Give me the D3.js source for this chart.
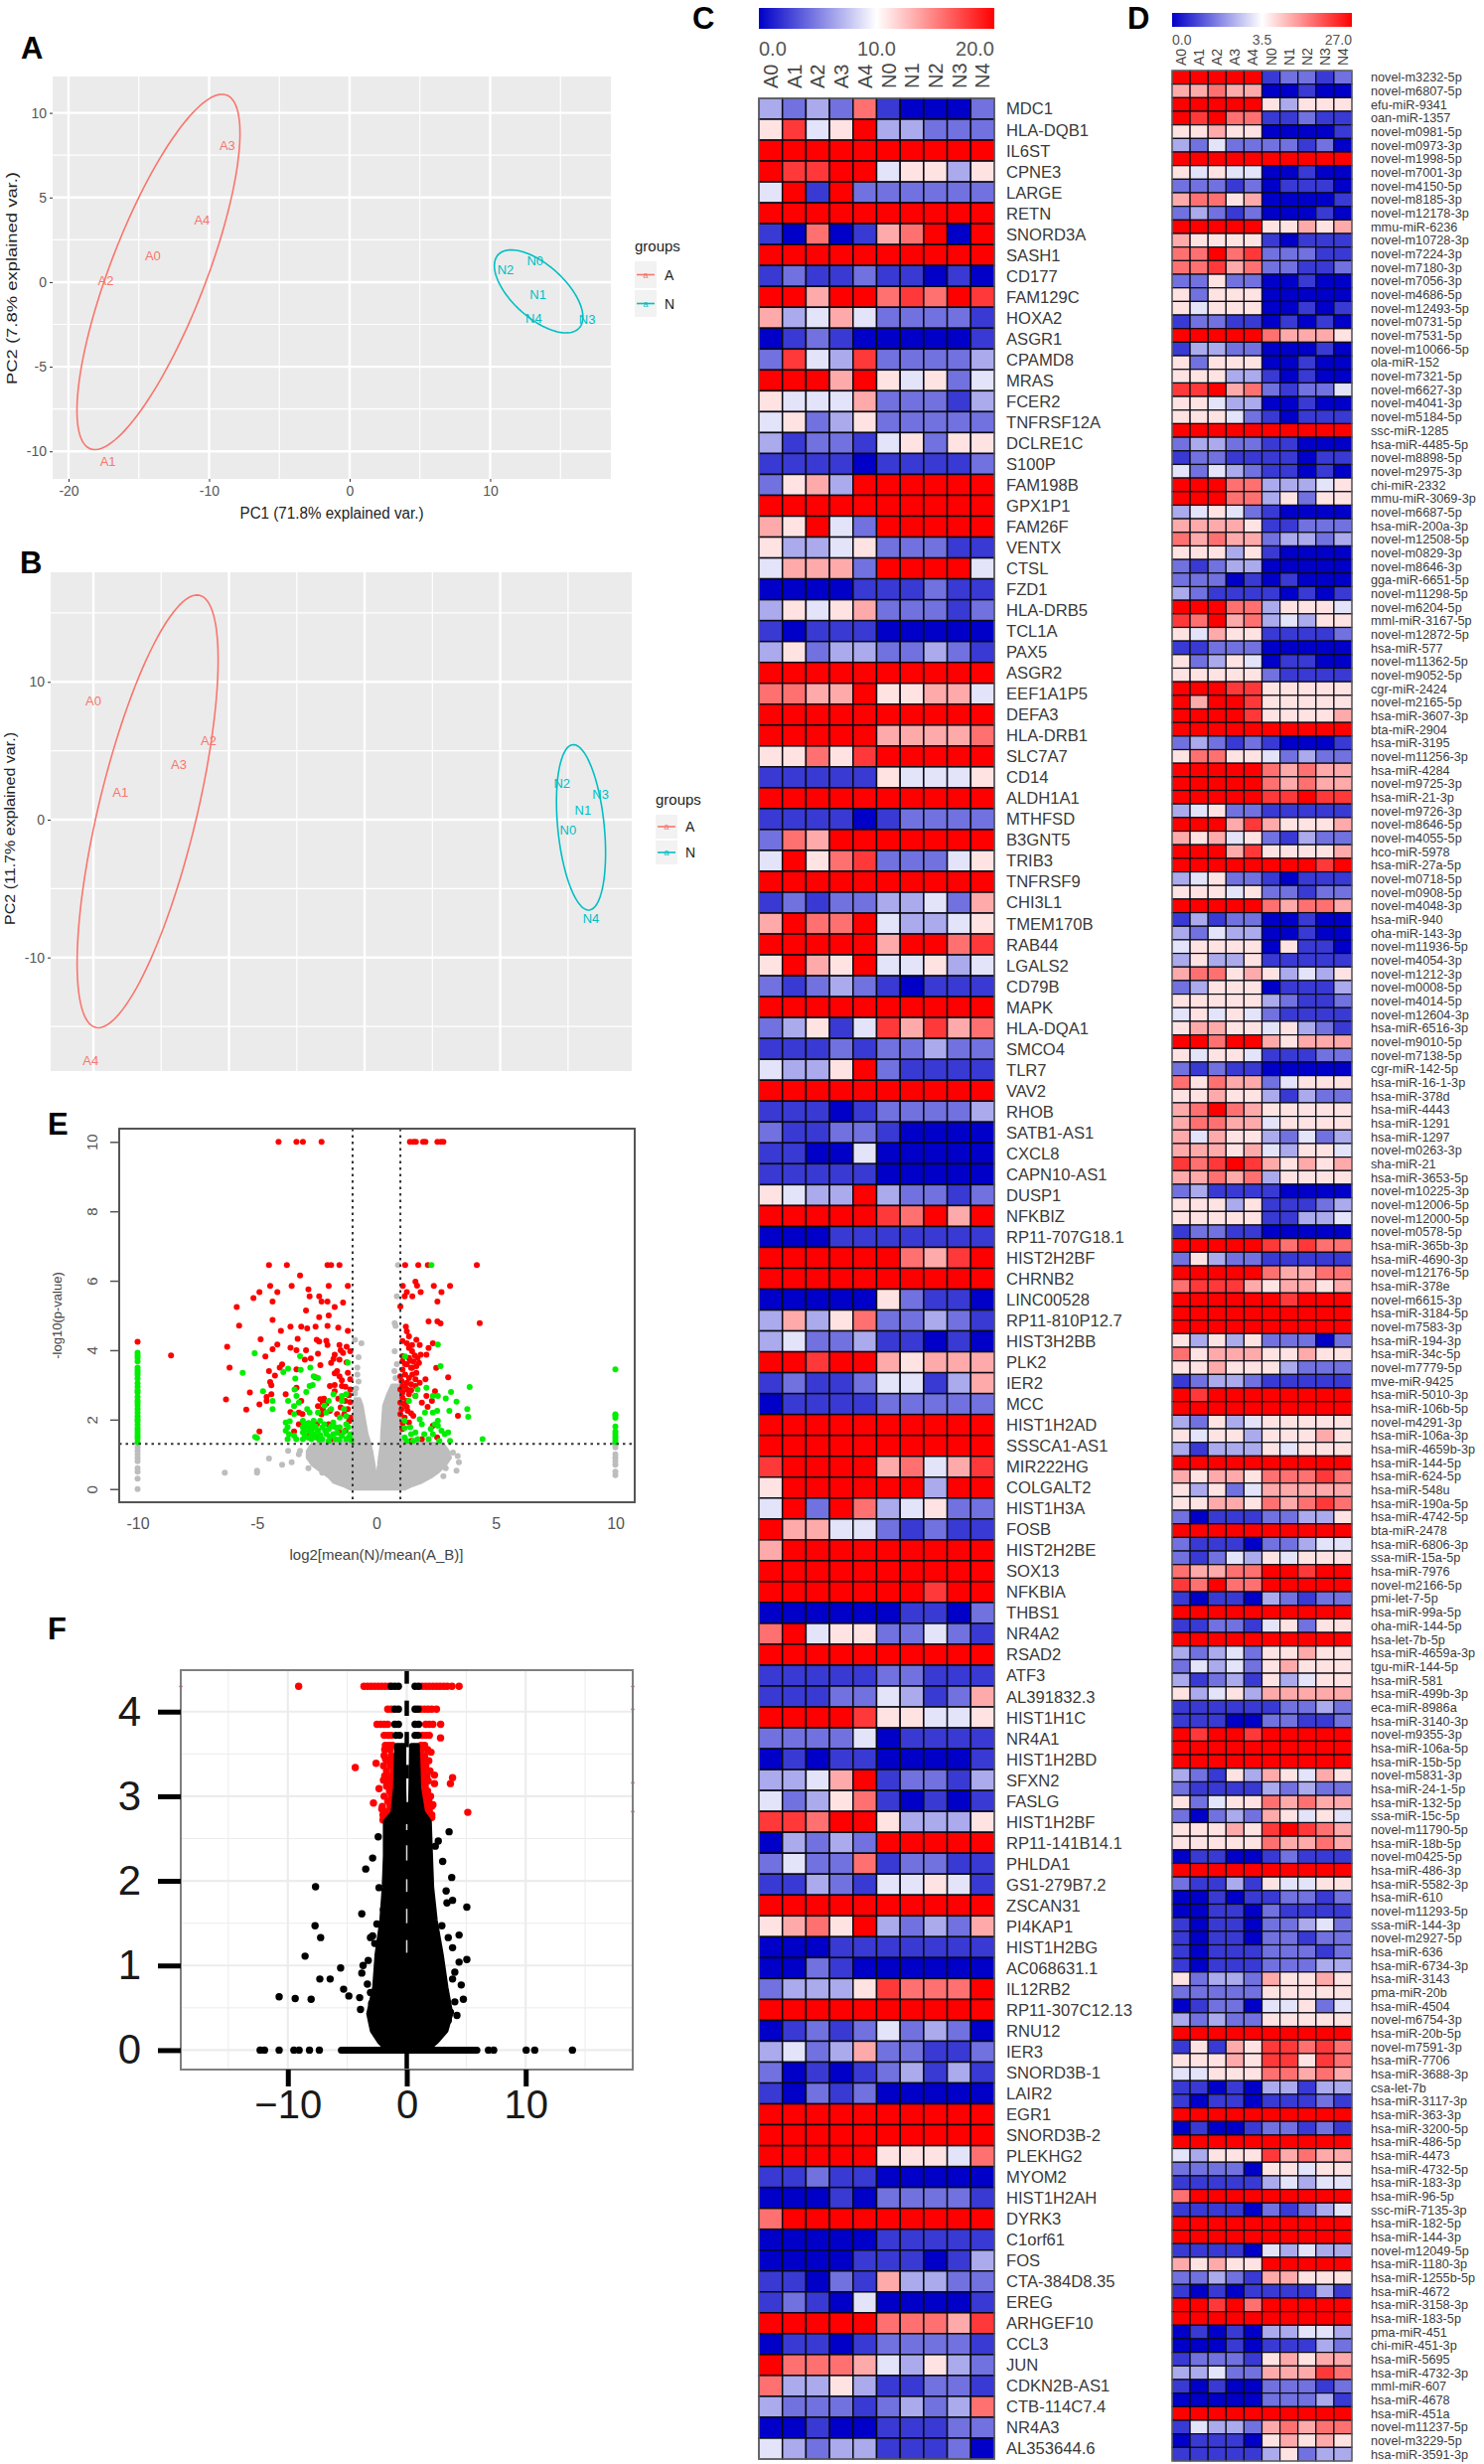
<!DOCTYPE html>
<html>
<head>
<meta charset="utf-8">
<title>PCA, heatmaps and volcano plots</title>
<script src="https://cdn.jsdelivr.net/npm/d3@7"></script>
<style>
  body { margin: 0; background: #fff; }
  svg { display: block; }
  text { font-family: "Liberation Sans", Arial, sans-serif; }
  .letter { font-weight: 700; font-size: 31px; fill: #000; }
</style>
</head>
<body>
<div id="canvas"></div>
<script>
//1) Data

//PCA panels, data units
const samples = ['A0','A1','A2','A3','A4','N0','N1','N2','N3','N4']
const pcaA_x = [-14, -17.2, -17.35, -8.7, -10.5, 13.2, 13.4, 11.1, 16.9, 13.1]
const pcaA_y = [1.58, -10.6, 0.06, 8.1, 3.67, 1.24, -0.74, 0.76, -2.2, -2.15]
const pcaB_x = [-20, -18, -11.5, -13.7, -20.2, 15, 16.1, 14.55, 17.4, 16.7]
const pcaB_y = [8.6, 1.97, 5.7, 4, -17.5, -0.77, 0.67, 2.67, 1.82, -7.2]
//ellipses: centre x, centre y, half width, half height, correlation
const ellipsesA = [[-13.6, 0.6, 5.8, 10.5, 0.78], [13.45, -0.55, 3.15, 2.45, -0.62]]
const ellipsesB = [[-16, 0.6, 5.2, 15.7, 0.7], [15.96, -0.56, 1.81, 6, -0.31]]

//heatmap C, one digit per cell: 0 deep blue, 4-5 white, 9 red
const genesC = ['MDC1','HLA-DQB1','IL6ST','CPNE3','LARGE','RETN','SNORD3A','SASH1','CD177','FAM129C','HOXA2','ASGR1','CPAMD8','MRAS','FCER2','TNFRSF12A','DCLRE1C','S100P','FAM198B','GPX1P1','FAM26F','VENTX','CTSL','FZD1','HLA-DRB5','TCL1A','PAX5','ASGR2','EEF1A1P5','DEFA3','HLA-DRB1','SLC7A7','CD14','ALDH1A1','MTHFSD','B3GNT5','TRIB3','TNFRSF9','CHI3L1','TMEM170B','RAB44','LGALS2','CD79B','MAPK','HLA-DQA1','SMCO4','TLR7','VAV2','RHOB','SATB1-AS1','CXCL8','CAPN10-AS1','DUSP1','NFKBIZ','RP11-707G18.1','HIST2H2BF','CHRNB2','LINC00528','RP11-810P12.7','HIST3H2BB','PLK2','IER2','MCC','HIST1H2AD','SSSCA1-AS1','MIR222HG','COLGALT2','HIST1H3A','FOSB','HIST2H2BE','SOX13','NFKBIA','THBS1','NR4A2','RSAD2','ATF3','AL391832.3','HIST1H1C','NR4A1','HIST1H2BD','SFXN2','FASLG','HIST1H2BF','RP11-141B14.1','PHLDA1','GS1-279B7.2','ZSCAN31','PI4KAP1','HIST1H2BG','AC068631.1','IL12RB2','RP11-307C12.13','RNU12','IER3','SNORD3B-1','LAIR2','EGR1','SNORD3B-2','PLEKHG2','MYOM2','HIST1H2AH','DYRK3','C1orf61','FOS','CTA-384D8.35','EREG','ARHGEF10','CCL3','JUN','CDKN2B-AS1','CTB-114C7.4','NR4A3','AL353644.6']
const levelsC = ['3232710002','5845933222','9999999999','9889945535','4919222222','9999999999','1070167909','9999999999','1211211010','9969978798','6346422221','0121000001','2843822223','9996954524','5444622213','4523522222','3122145255','1111011112','2563999999','9999999999','6594299999','5334522211','4666299994','0000111211','3545622212','1011100000','3523322321','9999999999','7766955664','9999999999','9999966667','5575899999','1111154445','9999999999','1111012222','2769999999','4957822245','9999999999',
'1212233426','6977943345','9999969978','5965944534','2123210111','9999999999','2351486867','1112122322','4335921111','9999999999','1110122223','2112210000','1100400000','1111100000','5433932212','9999987969','0001111111','9999997689','9999999999','0000052110','3635722321','3422311010','9989965666','1211244136','0111122222','9999999999','9999999999','8999967468','5999999399','4929734522','9664421211','6999999999','9999999999','9999999899','0000001102','7945522421','9999999999',
'1111122111','1112243126','9999855445','2222401111','0101100001','3346912213','4235710101','8879953335','0323299999','2422712211','1132144541','9999999999','5675932326','0001111111','0021000000','2333587779','9999999999','0121242320','3423622112','2010123131','1021200000','9999999999','9999999999','9999955547','1121100000','0001022221','7999999999','0000011111','0000111013','1102163322','1210400001','9999977768','0110122221','9777643532','7335311221','3222123237','0010011122','4323311120']

//heatmap D
const mirnasD = ['novel-m3232-5p','novel-m6807-5p','efu-miR-9341','oan-miR-1357','novel-m0981-5p','novel-m0973-3p','novel-m1998-5p','novel-m7001-3p','novel-m4150-5p','novel-m8185-3p','novel-m12178-3p','mmu-miR-6236','novel-m10728-3p','novel-m7224-3p','novel-m7180-3p','novel-m7056-3p','novel-m4686-5p','novel-m12493-5p','novel-m0731-5p','novel-m7531-5p','novel-m10066-5p','ola-miR-152','novel-m7321-5p','novel-m6627-3p','novel-m4041-3p','novel-m5184-5p','ssc-miR-1285','hsa-miR-4485-5p','novel-m8898-5p','novel-m2975-3p','chi-miR-2332','mmu-miR-3069-3p','novel-m6687-5p','hsa-miR-200a-3p','novel-m12508-5p','novel-m0829-3p','novel-m8646-3p','gga-miR-6651-5p','novel-m11298-5p','novel-m6204-5p','mml-miR-3167-5p','novel-m12872-5p','hsa-miR-577','novel-m11362-5p','novel-m9052-5p','cgr-miR-2424','novel-m2165-5p','hsa-miR-3607-3p','bta-miR-2904','hsa-miR-3195','novel-m11256-3p','hsa-miR-4284','novel-m9725-3p','hsa-miR-21-3p','novel-m9726-3p','novel-m8646-5p','novel-m4055-5p','hco-miR-5978','hsa-miR-27a-5p','novel-m0718-5p','novel-m0908-5p','novel-m4048-3p','hsa-miR-940','oha-miR-143-3p','novel-m11936-5p','novel-m4054-3p','novel-m1212-3p','novel-m0008-5p','novel-m4014-5p','novel-m12604-3p','hsa-miR-6516-3p','novel-m9010-5p','novel-m7138-5p','cgr-miR-142-5p','hsa-miR-16-1-3p','hsa-miR-378d','hsa-miR-4443','hsa-miR-1291','hsa-miR-1297','novel-m0263-3p','sha-miR-21','hsa-miR-3653-5p','novel-m10225-3p','novel-m12006-5p','novel-m12000-5p','novel-m0578-5p','hsa-miR-365b-3p','hsa-miR-4690-3p','novel-m12176-5p','hsa-miR-378e','novel-m6615-3p','hsa-miR-3184-5p','novel-m7583-3p','hsa-miR-194-3p','hsa-miR-34c-5p','novel-m7779-5p','mve-miR-9425','hsa-miR-5010-3p','hsa-miR-106b-5p','novel-m4291-3p','hsa-miR-106a-3p','hsa-miR-4659b-3p','hsa-miR-144-5p','hsa-miR-624-5p','hsa-miR-548u','hsa-miR-190a-5p','hsa-miR-4742-5p','bta-miR-2478','hsa-miR-6806-3p','ssa-miR-15a-5p','hsa-miR-7976','novel-m2166-5p','pmi-let-7-5p','hsa-miR-99a-5p','oha-miR-144-5p','hsa-let-7b-5p','hsa-miR-4659a-3p','tgu-miR-144-5p','hsa-miR-581','hsa-miR-499b-3p','eca-miR-8986a','hsa-miR-3140-3p','novel-m9355-3p','hsa-miR-106a-5p','hsa-miR-15b-5p','novel-m5831-3p','hsa-miR-24-1-5p','hsa-miR-132-5p','ssa-miR-15c-5p','novel-m11790-5p','hsa-miR-18b-5p','novel-m0425-5p','hsa-miR-486-3p','hsa-miR-5582-3p','hsa-miR-610','novel-m11293-5p','ssa-miR-144-3p','novel-m2927-5p','hsa-miR-636','hsa-miR-6734-3p','hsa-miR-3143','pma-miR-20b','hsa-miR-4504','novel-m6754-3p','hsa-miR-20b-5p','novel-m7591-3p','hsa-miR-7706','hsa-miR-3688-3p','csa-let-7b','hsa-miR-3117-3p','hsa-miR-363-3p','hsa-miR-3200-5p','hsa-miR-486-5p','hsa-miR-4473','hsa-miR-4732-5p','hsa-miR-183-3p','hsa-miR-96-5p','ssc-miR-7135-3p','hsa-miR-182-5p','hsa-miR-144-3p','novel-m12049-5p','hsa-miR-1180-3p','hsa-miR-1255b-5p','hsa-miR-4672','hsa-miR-3158-3p','hsa-miR-183-5p','pma-miR-451','chi-miR-451-3p','hsa-miR-5695','hsa-miR-4732-3p','mml-miR-607','hsa-miR-4678','hsa-miR-451a','novel-m11237-5p','novel-m3229-5p','hsa-miR-3591-3p']
const levelsD = ['9999912212','6676600100','9999953555','9897711211','5565500001','3242222120','9999999999','5454400100','2221201110','6775600001','2321200010','9999955656','6555510111','7797822211','7786722112','2252200100','5255500000','5455500101','1221101010','9999976665','1332200010','5255500100','5553310100','8896721224','5543300100','5554210111','9999999999','2332211000','1221111011','4243211010','9997733345','9997735255','3454210000','6666511222','7676623323','5553510000','2123300000','2220101000','3211110101','9997735554','8796734355','5465511112','1122200000','5235401100','5555521111','9998855555','9699855555','9999855556','9999999999','2321210001','5775542322','9999976766','9999976766','9999988988','3452211111','9996865556','6564521322','9996855556','9999999989',
'3452210111','5554522122','9999976776','1312200100','3243300100','4555505110','3533511111','6775653435','2355501113','5555532112','4545421111','5665545321','9979965666','5455411122','2121100000','7576624555','5565531322','6797655555','6776645555','6465532423','6665643554','8789865656','6676735555','2311110000','5553511123','5555511334','1221100000','9999987877','2532211111','9999976677','7888656656','9999998999','9999999999','9999999999','5353522202','7566655655','5565553222','1233211111','9899999999','9999999999','3253455555','5455355565','3133354555','9999999999','6566577787','5352466666','5566576787','2011122335','9999999999','2111022344','2124354555','7667799899','8797799999','1011032122','9999999999','1122145255','9999999999','3234255655',
'2434256555','3123153455','5345366666','1111112232','1110022112','9899899999','9999999999','9999999999','3215365465','2111132322','5245576766','2023265454','5556589876','5555576676','0110012111','9999999999','2113154455','0010112212','0011021111','1011022342','1011022122','1011122212','1011122233','5233265565','2222255555','0122044524','3232255555','9999999999','1516588787','5556588587','4455577676','1101033133','1011011121','9999999999','0100122121','9999999999','4355586766','2222055455','1111134344','7999999999','1111021234','9999999999','9999999999','1111043433','6565599999','2232166555','1010111131','9989799999','9999999999','0101033443','0001011132','1222156566','3342266687','1010022212','0000022231','9999999999','1433267677','0111056565','1111135233']

//volcano E, [log2 ratio, -log10 p]
const redE = [[-4.1,10],[-3.35,10],[-3.08,10],[-2.3,10],[1.4,10],[1.55,10],[1.65,10],[1.95,10],[2.05,10],[2.55,10],[2.7,10],[2.8,10],
[-4.5,6.45],[-3.75,6.45],[-2.05,6.45],[-1.9,6.45],[-1.55,6.45],[1.2,6.45],[1.75,6.45],[2.15,6.45],[4.2,6.45],
[-3.2,6.15],[-4.45,5.85],[-3.55,5.85],[-2,5.85],[-1.2,5.85],[-4.9,5.67],[-4.15,5.67],[-2.85,5.75],[-5.15,5.5],[-2.8,5.55],[-2.4,5.55],[-4.35,5.4],[-2.3,5.4],[-2.05,5.4],[-1.4,5.37],[-5.85,5.24],[-1.75,5.24],[-2.95,5.14],[-2,5],[-2.4,4.95],[-4.35,4.87],[-5.75,4.71],[-3.6,4.68],[-3.15,4.68],[-2.9,4.63],[-2.55,4.68],[-2.05,4.7],[-1.6,4.65],[-1.2,4.56],[-4,4.56],[-4.85,4.31],[-3.3,4.33],[-2.5,4.3],[-2.4,4.25],[-2.1,4.27],[-10,4.24],[-4.15,4.16],[-6.25,4.1],[-4.35,4.03],[-3.6,4.07],[-3.35,4],[-2.95,4],[-2.05,4.15],[-1.55,4.15],[-1.25,4.1],[-1.1,3.97],[-8.6,3.85],[-4.65,3.82],[-2.45,3.9],[-1.75,3.87],[-1.5,4],[-1.4,3.92],[-1.8,3.75],[-3,3.73],[-2.75,3.76],[-1.9,3.63],[-1.55,3.73],[-1.25,3.65],[-3.95,3.59],[-4.05,3.5],[-6.15,3.5],[-2.35,3.57],[-4.5,3.4],[-3.35,3.45],[-1.65,3.4],[-1.2,3.35],[-1.75,3.33],[-4.25,3.27],[-1.55,3.25],[-2.55,3.22],[-4.45,3.08],[-1.45,3.13],[-1.1,3.16],[-4.4,2.99],[-1.75,3],[-1.95,2.97],[-1.45,2.97],[-1.1,2.87],[-3.35,2.92],[-5.3,2.78],[-1.75,2.82],[-3.8,2.73],[-4.4,2.73],[-4.6,2.65],[-6.3,2.58],[-2.35,2.59],[-3.15,2.54],[-4.6,2.54],[-4.9,2.44],[-2.25,2.49],[-2.1,2.46],[-2.45,2.39],[-1.3,2.54],[-5.45,2.29],[-3.6,2.22],[-3.25,2.2],[-3.1,2.16],[-2.25,2.3],[-1.65,2.16],[-1.2,2.3],[-1.1,2.06],[-4.9,1.66],[-3.45,1.66],[-3.25,1.87],[-2.5,1.87],[-2,1.87],[-1.3,1.68],[-2.85,1.52],[-1.55,1.63],[-2.5,1.49],[-1.9,1.44],
[-1.3,2.95],[-1.6,2.6],[-1.15,2.7],[-1.5,2.35],[-1.1,2.5],[-1.35,2.15],[-1.15,1.95],[-2.2,2.6],[-2.3,2.15],[-1.95,2.25],
[1,5.26],[1.1,5.85],[1.63,5.97],[1.7,5.86],[2.4,5.85],[3.08,5.85],[1.27,5.67],[1.85,5.67],[2.72,5.67],[1.18,5.55],[1.5,5.55],[2.55,5.4],[2.18,4.83],[2.55,4.83],[2.68,4.77],[4.32,4.78],[1.23,4.68],[1.27,4.54],[1.36,4.4],[1.09,4.26],[1.27,4.2],[1.67,4.3],[2.36,4.2],[1.49,4.15],[1.81,4.15],[2.18,4.06],[1.36,4.06],[1.49,3.97],[1.09,3.83],[1.85,3.87],[2.09,3.87],[1.36,3.78],[1.72,3.78],[1.09,3.68],[1.54,3.68],[1.78,3.63],[1.27,3.59],[1.67,3.54],[1.45,3.49],[2.5,3.49],[1.09,3.44],[1.67,3.35],[1,3.25],[3,3.22],[1.36,3.2],[2.05,3.16],[1.63,3.16],[1.05,3.11],[1.81,3.06],[1.27,3.06],[1.45,3.02],[1.09,2.97],[1.63,2.97],[1,2.87],[1.27,2.87],[2.45,2.82],[1.09,2.78],[1.36,2.73],[1.09,2.63],[1.63,2.68],[2.09,2.68],[1.27,2.54],[1,2.49],[1.9,2.49],[2.32,2.54],[1.27,2.37],[2.14,2.37],[1.45,2.18],[1,2.16],[3.41,2.11],[1.18,2.06],[1.54,2.11],[1.36,1.92],[2.36,1.82],[1.09,1.73],[1.45,1.39],[1.9,1.44],[2.54,1.49],
[1.2,3.6],[1.5,3.5],[1.4,3.7],[1.6,3.85],[1.2,3.3],[1.5,3.3],[1.2,2.95],[1.45,2.85],[1.15,2.45],[1.05,2.3],[1.3,2.25],[1.1,1.9]]
const greenE = [[-5.1,3.91],[-5.6,3.35],[-3.2,3.83],[-3.7,3.47],[-3.9,3.37],[-3.17,3.43],[-2.77,3.5],[-3.4,3.18],[-2.63,3.25],[-2.45,3.2],[-2.67,3],[-2.8,2.97],[-3.43,2.87],[-4.75,2.82],[-2.94,2.8],[-3.35,2.68],[-3.7,2.54],[-4.35,2.54],[-4.35,2.3],[-3.45,2.39],[-3.25,2.49],[-1.8,2.73],[-1.45,2.68],[-1.27,2.73],[-2,2.54],[-1.45,2.54],[-1.2,3.64],[-2.18,2.4],[-1.9,2.3],[-1.36,2.3],[-2.9,2.3],[-2.8,2.2],[-2.45,2.2],[-2.1,2.2],[-3.45,2.16],[-1.27,2.1],[-1.54,2.06],
[-3.8,1.92],[-3.63,1.95],[-3.72,1.78],[-3.8,1.68],[-3.66,1.58],[-3.72,1.44],[-3.45,1.54],[-3.36,1.44],[-3.08,1.97],[-3,1.87],[-3.08,1.78],[-2.9,1.78],[-2.72,1.87],[-2.63,1.97],[-3.08,1.63],[-2.86,1.68],[-2.68,1.73],[-2.45,1.68],[-2.72,1.58],[-3,1.54],[-2.54,1.58],[-3.08,1.44],[-2.72,1.44],[-2.36,1.97],[-2.27,1.78],[-2.18,1.87],[-2,1.73],[-1.81,1.92],[-1.72,1.78],[-2.09,1.58],[-1.81,1.58],[-2.27,1.44],[-2,1.39],[-1.72,1.44],[-1.54,1.78],[-1.45,1.54],[-1.27,1.87],[-1.18,1.78],[-1.09,1.58],[-1.27,1.44],[-1.05,1.41],[-5,1.47],[-5.08,1.5],
[-2.85,1.9],[-2.8,1.75],[-2.55,1.8],[-2.95,1.7],[-2.6,1.5],[-2.85,1.48],[-2.35,1.55],[-2.15,1.68],[-1.95,1.5],[-1.65,1.62],[-1.55,1.42],[-1.35,1.65],[-1.15,1.5],[-1.9,1.8],[-2.4,1.42],
[2.57,4.16],[2.68,3.54],[3.9,2.94],[1.2,3.82],[2.3,6.45],[3.12,2.8],[1.72,2.87],[2.09,2.92],[2.57,2.68],[2.9,2.61],[3.35,2.52],[3.8,2.3],[3.05,2.25],[2.54,2.25],[2.36,2.2],[2.03,2.2],[3.84,2.08],[1.81,2.01],[1.18,1.97],[2.57,1.97],[2.45,1.87],[1.9,1.87],[1.41,1.78],[1.18,1.76],[2.27,1.73],[2.57,1.82],[3,1.63],[2.86,1.58],[4.44,1.44],[1.63,1.63],[1.45,1.58],[2,1.58],[2.36,1.58],[1.18,1.49],[1.72,1.44],[2.18,1.44],[2.63,1.39],[3.08,1.39],[1.27,1.39],[1.54,1.39],[2.72,1.68],[1.63,2.68],[1.36,2.54],[2.36,2.68]]
const greenColLeft = [1.35,1.45,1.52,1.6,1.68,1.75,1.85,1.95,2.02,2.1,2.2,2.3,2.4,2.48,2.55,2.65,2.78,2.85,2.95,3.05,3.18,3.28,3.35,3.42,3.5,3.68,3.78,3.85,3.93]
const greenColRight = [1.35,1.42,1.5,1.58,1.66,1.8,2.05,2.12,2.15,3.45]
const grayColLeft = [0,0.3,0.5,0.6,0.8,0.9,1,1.1,1.2]
const grayColRight = [0.4,0.5,0.7,0.8,0.9,1,1.2,1.3]
const grayE = [[-6.35,0.47],[-5,0.53],[-5,0.47],[-4.5,0.88],[-3.95,0.7],[-3.55,0.77],[-3.7,1.1],[-3.2,1.1],[-3.25,1],[-2.85,0.6],[-2.27,0.47],[-2.6,0.75],[3.35,0.53],[3.45,0.77],[2.8,0.37],[3.4,0.95],[3.2,1.05],[2.9,0.6],[0.9,6.45],[0.76,4.78],[0.85,5.55],[-0.63,4.2],[-0.9,4.3],[0.76,3.97],[0.8,4.7],[0.75,3.4],[0.8,3.2],[0.85,3.6],[-0.8,3.5],[-0.75,3.1],[-0.85,2.9],[-0.8,3.3],[-0.75,3.8],[-0.9,2.75]]
//dense grey cloud: [y, outer x, inner x]
const grayWingLeft = [[0,-1.1,-0.02],[0.1,-1.4,-0.03],[0.2,-1.8,-0.04],[0.35,-2,-0.05],[0.5,-2.3,-0.06],[0.7,-2.7,-0.1],[0.9,-2.9,-0.15],[1.1,-2.9,-0.2],[1.3,-2.7,-0.27],[1.38,-1,-0.3],[1.6,-1,-0.4],[2,-0.95,-0.5],[2.4,-0.95,-0.6],[2.6,-0.9,-0.7]]
const grayWingRight = [[0,1.2,0.02],[0.1,1.5,0.03],[0.2,1.9,0.04],[0.35,2.3,0.05],[0.5,2.6,0.05],[0.7,2.9,0.09],[0.9,3.1,0.12],[1.1,3,0.16],[1.3,2.8,0.2],[1.38,1,0.21],[1.6,1,0.22],[2,1,0.26],[2.4,1,0.3],[2.7,1,0.45],[3,0.95,0.65]]

//volcano F
const blackDotsF = [[-7.67,1.93],[-7.71,1.47],[-7.24,1.33],[-8.55,1.11],[-5.56,0.97],[-7.31,0.84],[-6.44,0.84],[-10.73,0.63],[-9.38,0.61],[-8.04,0.6],[-5.31,0.72],[-4.87,0.64],[-3.96,0.62],[-3.89,0.48],[-3.78,1.61],[-3.45,2.14],[-2.87,2.27],[-2.4,2.52],[-2.33,1.92],[3.56,2.58],[2.65,2.47],[2.4,2.41],[3.02,2.23],[3.78,2.04],[3.31,1.88],[3.85,1.77],[3.38,1.74],[5.05,1.69],[2.95,1.47],[4.4,1.36],[3.49,1.33],[3.85,1.21],[5.05,1.07],[4.4,1.04],[4.04,0.92],[3.85,0.84],[4.58,0.77],[4.76,0.6],[4.04,0.57],[3.67,0.45],[4.22,0.41],[3.49,0.35],[-3.05,1.33],[-2.87,1.35],[-2.69,1.26],[-2.15,1.15],[-3.24,1.06],[-3.67,1],[-3.78,0.91],[-3.31,0.78],[-3.05,0.68],[-2.95,0.55],[-1.96,1.66],[-2.51,1.49],
[-12.33,0],[-11.96,0],[-10.73,0],[-9.49,0],[-9.05,0],[-8.18,0],[-7.35,0],[6.87,0],[7.31,0],[10.04,0],[10.76,0],[13.93,0],
[-1.3,4.3],[-1,4.3],[-0.7,4.3],[0.7,4.3],[1,4.3],[-1,4.03],[-0.7,4.03],[0.7,4.03],[0.95,4.03],[-1,3.85],[-0.7,3.85],[0.7,3.85],[1,3.85],[-0.9,3.72],[-0.6,3.72],[0.7,3.72],[0.95,3.72]]
const baselineF = [-5.5, 5.9]
const redDotsF = [[-9.09,4.3],[-3.6,4.3],[-3.3,4.3],[-3,4.3],[-2.7,4.3],[-2.4,4.3],[-2.1,4.3],[-1.8,4.3],[-1.5,4.3],[1.3,4.3],[1.6,4.3],[1.9,4.3],[2.2,4.3],[2.5,4.3],[2.8,4.3],[3.1,4.3],[3.4,4.3],[3.8,4.3],[4.4,4.3],
[-1.6,4.03],[-1.3,4.03],[1.2,4.03],[1.5,4.03],[1.8,4.03],[2.1,4.03],[2.5,4.03],
[-2.5,3.85],[-2.2,3.85],[-1.9,3.85],[-1.6,3.85],[1.6,3.85],[1.9,3.85],[2.2,3.85],[2.85,3.85],
[-1.9,3.72],[-1.6,3.72],[-1.3,3.72],[1.3,3.72],[1.6,3.72],[1.9,3.72],[2.84,3.69],
[-1.8,3.6],[-1.5,3.6],[-1.2,3.6],[1.2,3.6],[1.5,3.6],
[-4.33,3.34],[-2.58,3.39],[-2.33,3.09],[-2.8,2.92],[3.85,3.22],[3.67,3.15],[5.13,2.81],[2.33,3.25],[2.33,3.15],[2.04,3.52],[-1.96,3.19],[-1.78,3.44],[-2.1,2.85],[2.2,2.9],[2.1,2.75],[-2,2.72],
[-1.85,3.55],[-1.4,3.55],[-1.9,3.48],[-1.3,3.48],[-1.6,3.42],[-1.15,3.42],[-1.95,3.36],[-1.35,3.36],[-1.7,3.3],[-1.1,3.3],[-1.85,3.24],[-1.3,3.24],[-1.5,3.18],[-1.05,3.18],[-1.7,3.12],[-1.25,3.12],[-1.45,3.06],[-1,3.06],[-1.9,3],[-1.3,3],[-1.6,2.94],[-1.05,2.94],[-2.05,2.88],[-1.4,2.88],[-1.7,2.82],[-1.2,2.82],[-2,2.78],[-1.5,2.78],
[1.2,3.55],[1.75,3.55],[1.05,3.48],[1.5,3.48],[1.3,3.42],[1.85,3.42],[1.1,3.36],[1.6,3.36],[1.4,3.3],[1.95,3.3],[1.15,3.24],[1.7,3.24],[1.35,3.18],[1.8,3.18],[1.05,3.12],[1.55,3.12],[1.25,3.06],[1.75,3.06],[1.1,3],[1.6,3],[2,3],[1.3,2.94],[1.85,2.94],[1.05,2.88],[1.55,2.88],[2.1,2.88],[1.35,2.82],[1.9,2.82],[1.6,2.78],[2.1,2.78]]
//dense clouds: [y, left x, right x]
const blackCloudF = [[0,-1.6,1.67],[0.1,-2.3,2.5],[0.23,-2.9,3.3],[0.43,-3.2,3.7],[0.74,-2.7,3.3],[1.13,-2.5,2.9],[1.53,-2.1,2.4],[1.92,-1.9,2.1],[2.3,-1.8,2],[2.7,-1.8,1.9],[2.8,-1.2,1.4]]
const blackWingLeftF = [[2.75,-1.2,-0.2],[3.1,-0.95,-0.25],[3.6,-0.85,-0.25]]
const blackWingRightF = [[2.75,0.3,1.4],[3.1,0.35,1],[3.6,0.4,0.9]]
const zeroLineF = [[4.33,4.49],[3.95,4.13],[3.58,3.76],[3.21,3.37],[2.78,2.93],[-0.23,0]]
const zeroGapF = [[2.6,2.67],[2.24,2.42],[1.87,2.02],[1.5,1.67],[1.15,1.3]]
const edgeRedF = [[-19,4.3],[19,4.3],[19,4.03],[19,3.16],[19,2.82]]
const edgeBlackF = [[-19,2.5],[-19,1.8],[-19,1],[-19,0.9],[19,2.55],[19,2.25],[19,2.05],[19,1.65],[19,1.1],[19,1],[19,0.7]]

//2) Dimensions and canvas

const width = 1494
const height = 2480

const canvas = d3.select('#canvas')
                 .append('svg')
                 .attr('width', width)
                 .attr('height', height)

const letters = [['A',21,59],['B',20,577],['C',697,29],['D',1135,29],['E',48,1142],['F',48,1650]]
canvas.selectAll('.letter')
      .data(letters)
      .enter()
      .append('text')
      .attr('class', 'letter')
      .attr('x', d => d[1])
      .attr('y', d => d[2])
      .text(d => d[0])

//3) PCA panels

const pcaColors = ['#F8766D', '#00BFC4']

function ellipsePoints(e){
    const [cx, cy, hx, hy, rho] = e
    return d3.range(0, 6.3, 0.05).map(t => [
        cx + hx * Math.cos(t),
        cy + hy * (rho * Math.cos(t) + Math.sqrt(1 - rho * rho) * Math.sin(t))
    ])
}

function drawPca(cfg){
    const g = canvas.append('g')
    const x = d3.scaleLinear().domain(cfg.xDomain).range(cfg.xRange)
    const y = d3.scaleLinear().domain(cfg.yDomain).range(cfg.yRange)

    g.append('rect')
     .attr('x', cfg.xRange[0]).attr('y', cfg.yRange[1])
     .attr('width', cfg.xRange[1] - cfg.xRange[0])
     .attr('height', cfg.yRange[0] - cfg.yRange[1])
     .attr('fill', '#ebebeb')

    //grid
    const gridLine = (vals, w) => {
        g.append('g').selectAll('line').data(vals).enter().append('line')
         .attr('x1', d => x(d)).attr('x2', d => x(d))
         .attr('y1', cfg.yRange[0]).attr('y2', cfg.yRange[1])
         .attr('stroke', '#fff').attr('stroke-width', w)
    }
    const gridLineH = (vals, w) => {
        g.append('g').selectAll('line').data(vals).enter().append('line')
         .attr('y1', d => y(d)).attr('y2', d => y(d))
         .attr('x1', cfg.xRange[0]).attr('x2', cfg.xRange[1])
         .attr('stroke', '#fff').attr('stroke-width', w)
    }
    gridLine(cfg.xMinor, 1.2)
    gridLine(cfg.xMajor, 2.4)
    gridLineH(cfg.yMinor, 1.2)
    gridLineH(cfg.yMajor, 2.4)

    //axes
    if (cfg.xLabels) {
        const ax = g.append('g')
            .attr('transform', `translate(0,${cfg.yRange[0]})`)
            .call(d3.axisBottom(x).tickValues(cfg.xMajor).tickSize(3).tickPadding(4).tickFormat(d => String(d)))
        ax.select('.domain').remove()
        ax.selectAll('text').attr('font-size', 14).attr('fill', '#555')
        ax.selectAll('line').attr('stroke', '#333')
    }
    const ay = g.append('g')
        .attr('transform', `translate(${cfg.xRange[0]},0)`)
        .call(d3.axisLeft(y).tickValues(cfg.yMajor).tickSize(3).tickPadding(3).tickFormat(d => String(d)))
    ay.select('.domain').remove()
    ay.selectAll('text').attr('font-size', 14).attr('fill', '#555')
    ay.selectAll('line').attr('stroke', '#333')

    //ellipses
    const line = d3.line().x(d => x(d[0])).y(d => y(d[1])).curve(d3.curveLinearClosed)
    g.selectAll('.ell').data(cfg.ellipses).enter().append('path')
     .attr('class', 'ell')
     .attr('d', d => line(ellipsePoints(d)))
     .attr('fill', 'none')
     .attr('stroke', (d, i) => pcaColors[i])
     .attr('stroke-width', 1.6)

    //sample labels
    g.selectAll('.smp').data(samples).enter().append('text')
     .attr('class', 'smp')
     .attr('x', (d, i) => x(cfg.px[i]))
     .attr('y', (d, i) => y(cfg.py[i]))
     .attr('dy', '0.35em')
     .attr('text-anchor', 'middle')
     .attr('font-size', 13)
     .attr('fill', (d, i) => pcaColors[i < 5 ? 0 : 1])
     .text(d => d)

    //titles
    if (cfg.xTitle) {
        g.append('text').attr('x', cfg.xTitle[1]).attr('y', cfg.xTitle[2])
         .attr('text-anchor', 'middle').attr('font-size', 16).attr('fill', '#222')
         .attr('textLength', 185).attr('lengthAdjust', 'spacingAndGlyphs')
         .text(cfg.xTitle[0])
    }
    g.append('text')
     .attr('transform', `translate(${cfg.yTitle[1]},${cfg.yTitle[2]}) rotate(-90)`)
     .attr('text-anchor', 'middle').attr('font-size', 15).attr('fill', '#222')
     .attr('textLength', cfg.yTitle[3]).attr('lengthAdjust', 'spacingAndGlyphs')
     .text(cfg.yTitle[0])

    //legend
    const lg = cfg.legend
    g.append('text').attr('x', lg.x).attr('y', lg.y).attr('font-size', 15).attr('fill', '#222').text('groups')
    ;['A', 'N'].forEach((name, i) => {
        const top = lg.y + 10 + i * lg.step
        g.append('rect').attr('x', lg.x).attr('y', top).attr('width', 22).attr('height', lg.step - 2).attr('fill', '#f2f2f2')
        g.append('line').attr('x1', lg.x + 2).attr('x2', lg.x + 20)
         .attr('y1', top + (lg.step - 2) / 2).attr('y2', top + (lg.step - 2) / 2)
         .attr('stroke', pcaColors[i]).attr('stroke-width', 1.6)
        g.append('text').attr('x', lg.x + 11).attr('y', top + (lg.step - 2) / 2 + 3)
         .attr('text-anchor', 'middle').attr('font-size', 9).attr('fill', pcaColors[i]).text('a')
        g.append('text').attr('x', lg.x + 30).attr('y', top + (lg.step - 2) / 2 + 5)
         .attr('font-size', 14).attr('fill', '#222').text(name)
    })
}

drawPca({
    xDomain: [-21.13, 18.59], xRange: [53, 615],
    yDomain: [-11.63, 12.15], yRange: [482, 77],
    xMajor: [-20, -10, 0, 10], xMinor: [-15, -5, 5, 15],
    yMajor: [-10, -5, 0, 5, 10], yMinor: [-7.5, -2.5, 2.5, 7.5],
    xLabels: true,
    ellipses: ellipsesA, px: pcaA_x, py: pcaA_y,
    xTitle: ['PC1 (71.8% explained var.)', 334, 522],
    yTitle: ['PC2 (7.8% explained var.)', 17, 280, 214],
    legend: { x: 639, y: 253, step: 29 }
})

drawPca({
    xDomain: [-23.15, 19.7], xRange: [51, 636],
    yDomain: [-18.24, 17.95], yRange: [1078, 576],
    xMajor: [-20, -10, 0, 10], xMinor: [-15, -5, 5, 15],
    yMajor: [-10, 0, 10], yMinor: [-15, -5, 5, 15],
    xLabels: false,
    ellipses: ellipsesB, px: pcaB_x, py: pcaB_y,
    yTitle: ['PC2 (11.7% explained var.)', 15, 834, 194],
    legend: { x: 660, y: 810, step: 26 }
})

//4) Heatmaps

function drawHeat(cfg){
    const g = canvas.append('g')
    const color = d3.scaleLinear()
                    .domain([0, 4.5, 9])
                    .range(['#0000c8', '#ffffff', '#ff0000'])

    const gradId = cfg.id + '-grad'
    const grad = g.append('defs').append('linearGradient').attr('id', gradId)
    grad.selectAll('stop').data([['0%', '#0000c8'], ['50%', '#ffffff'], ['100%', '#ff0000']]).enter().append('stop')
        .attr('offset', d => d[0]).attr('stop-color', d => d[1])
    g.append('rect').attr('x', cfg.left).attr('y', cfg.barTop)
     .attr('width', cfg.right - cfg.left).attr('height', cfg.barH)
     .attr('fill', `url(#${gradId})`)

    g.selectAll('.barlab').data(cfg.barLabels).enter().append('text')
     .attr('class', 'barlab')
     .attr('x', (d, i) => cfg.left + (cfg.right - cfg.left) * i / 2)
     .attr('y', cfg.barLabelY)
     .attr('text-anchor', (d, i) => ['start', 'middle', 'end'][i])
     .attr('font-size', cfg.barFont)
     .attr('fill', '#555')
     .text(d => d)

    const x = d3.scaleBand().domain(samples).range([cfg.left, cfg.right])
    const y = d3.scaleBand().domain(d3.range(cfg.rows.length)).range([cfg.top, cfg.bottom])

    g.selectAll('.collab').data(samples).enter().append('text')
     .attr('class', 'collab')
     .attr('transform', d => `translate(${x(d) + x.bandwidth() / 2 + cfg.colFont * 0.36},${cfg.colBottom}) rotate(-90)`)
     .attr('font-size', cfg.colFont)
     .attr('fill', '#444')
     .text(d => d)

    const row = g.selectAll('.row').data(cfg.rows).enter().append('g')
                 .attr('class', 'row')
                 .attr('transform', (d, i) => `translate(0,${y(i)})`)

    row.selectAll('rect').data(d => d.split('').map((v, j) => [samples[j], +v])).enter().append('rect')
       .attr('x', d => x(d[0]))
       .attr('width', x.bandwidth())
       .attr('height', y.bandwidth())
       .attr('fill', d => color(d[1]))
       .attr('stroke', '#0a0a14')
       .attr('stroke-width', cfg.gap)

    g.append('rect').attr('x', cfg.left).attr('y', cfg.top)
     .attr('width', cfg.right - cfg.left).attr('height', cfg.bottom - cfg.top)
     .attr('fill', 'none').attr('stroke', '#8a8a8a').attr('stroke-width', 1)

    g.selectAll('.rowlab').data(cfg.names).enter().append('text')
     .attr('class', 'rowlab')
     .attr('x', cfg.labelX)
     .attr('y', (d, i) => y(i) + y.bandwidth() / 2)
     .attr('dy', '0.36em')
     .attr('font-size', cfg.labelFont)
     .attr('fill', '#3a3a3a')
     .text(d => d)
}

drawHeat({
    id: 'c', names: genesC, rows: levelsC,
    left: 764, right: 1001, top: 99, bottom: 2475,
    barTop: 8, barH: 21, barLabels: ['0.0', '10.0', '20.0'], barLabelY: 56, barFont: 20,
    colBottom: 89, colFont: 20, gap: 1.5,
    labelX: 1013, labelFont: 16.6
})

drawHeat({
    id: 'd', names: mirnasD, rows: levelsD,
    left: 1180, right: 1361, top: 71, bottom: 2477,
    barTop: 13, barH: 14, barLabels: ['0.0', '3.5', '27.0'], barLabelY: 45, barFont: 14,
    colBottom: 66, colFont: 14, gap: 1.2,
    labelX: 1380, labelFont: 12.7
})

//5) Volcano E

function wingArea(x, y){
    return d3.area().y(d => y(d[0])).x0(d => x(d[1])).x1(d => x(d[2]))
}

function drawVolcanoE(){
    const g = canvas.append('g')
    const x = d3.scaleLinear().domain([-10.77, 10.81]).range([120, 639])
    const y = d3.scaleLinear().domain([-0.38, 10.38]).range([1512, 1136])

    g.selectAll('.wing').data([grayWingLeft, grayWingRight]).enter().append('path')
     .attr('class', 'wing')
     .attr('d', wingArea(x, y))
     .attr('fill', '#bdbdbd').attr('stroke', '#bdbdbd').attr('stroke-width', 3).attr('stroke-linejoin', 'round')

    const dots = (pts, color) => g.append('g').selectAll('circle').data(pts).enter().append('circle')
        .attr('cx', d => x(d[0])).attr('cy', d => y(d[1])).attr('r', 3).attr('fill', color)

    dots(grayE, '#bdbdbd')
    dots(grayColLeft.map(v => [-10, v]), '#bdbdbd')
    dots(grayColRight.map(v => [10, v]), '#bdbdbd')
    dots(redE, '#ff0000')
    dots(greenE, '#00ee00')
    dots(greenColLeft.map(v => [-10, v]), '#00ee00')
    dots(greenColRight.map(v => [10, v]), '#00ee00')

    //cut-off lines
    const dotted = { 'stroke': '#333', 'stroke-width': 2, 'stroke-dasharray': '2.5 4' }
    ;[-1, 1].forEach(v => {
        g.append('line').attr('x1', x(v)).attr('x2', x(v)).attr('y1', 1136).attr('y2', 1512)
         .attr('stroke', dotted.stroke).attr('stroke-width', dotted['stroke-width']).attr('stroke-dasharray', dotted['stroke-dasharray'])
    })
    g.append('line').attr('x1', 120).attr('x2', 639).attr('y1', y(1.3)).attr('y2', y(1.3))
     .attr('stroke', dotted.stroke).attr('stroke-width', dotted['stroke-width']).attr('stroke-dasharray', dotted['stroke-dasharray'])

    g.append('rect').attr('x', 120).attr('y', 1136).attr('width', 519).attr('height', 376)
     .attr('fill', 'none').attr('stroke', '#555').attr('stroke-width', 2)

    const ax = g.append('g').attr('transform', 'translate(0,1512)')
        .call(d3.axisBottom(x).tickValues([-10, -5, 0, 5, 10]).tickSize(0).tickPadding(16).tickFormat(d => String(d)))
    ax.select('.domain').remove()
    ax.selectAll('text').attr('font-size', 16).attr('fill', '#555')

    const ay = g.append('g').attr('transform', 'translate(120,0)')
        .call(d3.axisLeft(y).tickValues([0, 2, 4, 6, 8, 10]).tickSize(9).tickFormat(d => String(d)))
    ay.select('.domain').remove()
    ay.selectAll('line').attr('stroke', '#555').attr('stroke-width', 1.5)
    ay.selectAll('text')
      .attr('transform', 'rotate(-90)')
      .attr('x', 0).attr('y', -22)
      .attr('dy', 0)
      .attr('text-anchor', 'middle')
      .attr('font-size', 15).attr('fill', '#555')

    g.append('text').attr('x', 379).attr('y', 1570).attr('text-anchor', 'middle')
     .attr('font-size', 15).attr('fill', '#444').text('log2[mean(N)/mean(A_B)]')
    g.append('text').attr('transform', 'translate(62,1324) rotate(-90)').attr('text-anchor', 'middle')
     .attr('font-size', 13).attr('fill', '#444').text('-log10(p-value)')
}
drawVolcanoE()

//6) Volcano F

function drawVolcanoF(){
    const g = canvas.append('g')
    const x = d3.scaleLinear().domain([-19, 19]).range([182, 637])
    const y = d3.scaleLinear().domain([-0.23, 4.49]).range([2083, 1681])

    //grid
    const vLines = [[-15, 1], [-5, 1], [5, 1], [15, 1], [-10, 2.2], [0, 2.2], [10, 2.2]]
    g.append('g').selectAll('line').data(vLines).enter().append('line')
     .attr('x1', d => x(d[0])).attr('x2', d => x(d[0])).attr('y1', 1681).attr('y2', 2083)
     .attr('stroke', '#ececec').attr('stroke-width', d => d[1])
    const hLines = [[0.5, 1], [1.5, 1], [2.5, 1], [3.5, 1], [0, 2.2], [1, 2.2], [2, 2.2], [3, 2.2], [4, 2.2]]
    g.append('g').selectAll('line').data(hLines).enter().append('line')
     .attr('y1', d => y(d[0])).attr('y2', d => y(d[0])).attr('x1', 182).attr('x2', 637)
     .attr('stroke', '#ececec').attr('stroke-width', d => d[1])

    const dots = (pts, color, r) => g.append('g').selectAll('circle').data(pts).enter().append('circle')
        .attr('cx', d => x(d[0])).attr('cy', d => y(d[1])).attr('r', r).attr('fill', color)
    dots(redDotsF, '#ff0000', 3.7)

    //clouds
    const area = wingArea(x, y)
    g.selectAll('.blk').data([blackCloudF, blackWingLeftF, blackWingRightF]).enter().append('path')
     .attr('class', 'blk').attr('d', area)
     .attr('fill', '#000').attr('stroke', '#000').attr('stroke-width', 5).attr('stroke-linejoin', 'round')

    g.append('line').attr('x1', x(baselineF[0])).attr('x2', x(baselineF[1])).attr('y1', y(0)).attr('y2', y(0))
     .attr('stroke', '#000').attr('stroke-width', 7).attr('stroke-linecap', 'round')

    dots(blackDotsF, '#000', 3.7)
    dots(edgeRedF, '#ff3030', 1.5)
    dots(edgeBlackF, '#333', 1)

    //line of zero-fold points along x = 0
    g.selectAll('.zero').data(zeroLineF).enter().append('line')
     .attr('class', 'zero').attr('x1', x(0)).attr('x2', x(0))
     .attr('y1', d => y(d[0])).attr('y2', d => y(d[1]))
     .attr('stroke', '#000').attr('stroke-width', 4.5)
    g.selectAll('.gap').data(zeroGapF).enter().append('line')
     .attr('class', 'gap').attr('x1', x(0)).attr('x2', x(0))
     .attr('y1', d => y(d[0])).attr('y2', d => y(d[1]))
     .attr('stroke', '#ddd').attr('stroke-width', 1.5)

    g.append('rect').attr('x', 182).attr('y', 1681).attr('width', 455).attr('height', 402)
     .attr('fill', 'none').attr('stroke', '#7f7f7f').attr('stroke-width', 2)

    const ax = g.append('g').attr('transform', 'translate(0,2083)')
        .call(d3.axisBottom(x).tickValues([-10, 0, 10]).tickSize(17).tickPadding(4))
    ax.select('.domain').remove()
    ax.selectAll('line').attr('stroke', '#000').attr('stroke-width', 5)
    ax.selectAll('text').attr('font-size', 40).attr('fill', '#1a1a1a')

    const ay = g.append('g').attr('transform', 'translate(182,0)')
        .call(d3.axisLeft(y).tickValues([0, 1, 2, 3, 4]).tickSize(23).tickPadding(17).tickFormat(d3.format('d')))
    ay.select('.domain').remove()
    ay.selectAll('line').attr('stroke', '#000').attr('stroke-width', 5)
    ay.selectAll('text').attr('font-size', 42).attr('fill', '#1a1a1a')
}
drawVolcanoF()
</script>
</body>
</html>
